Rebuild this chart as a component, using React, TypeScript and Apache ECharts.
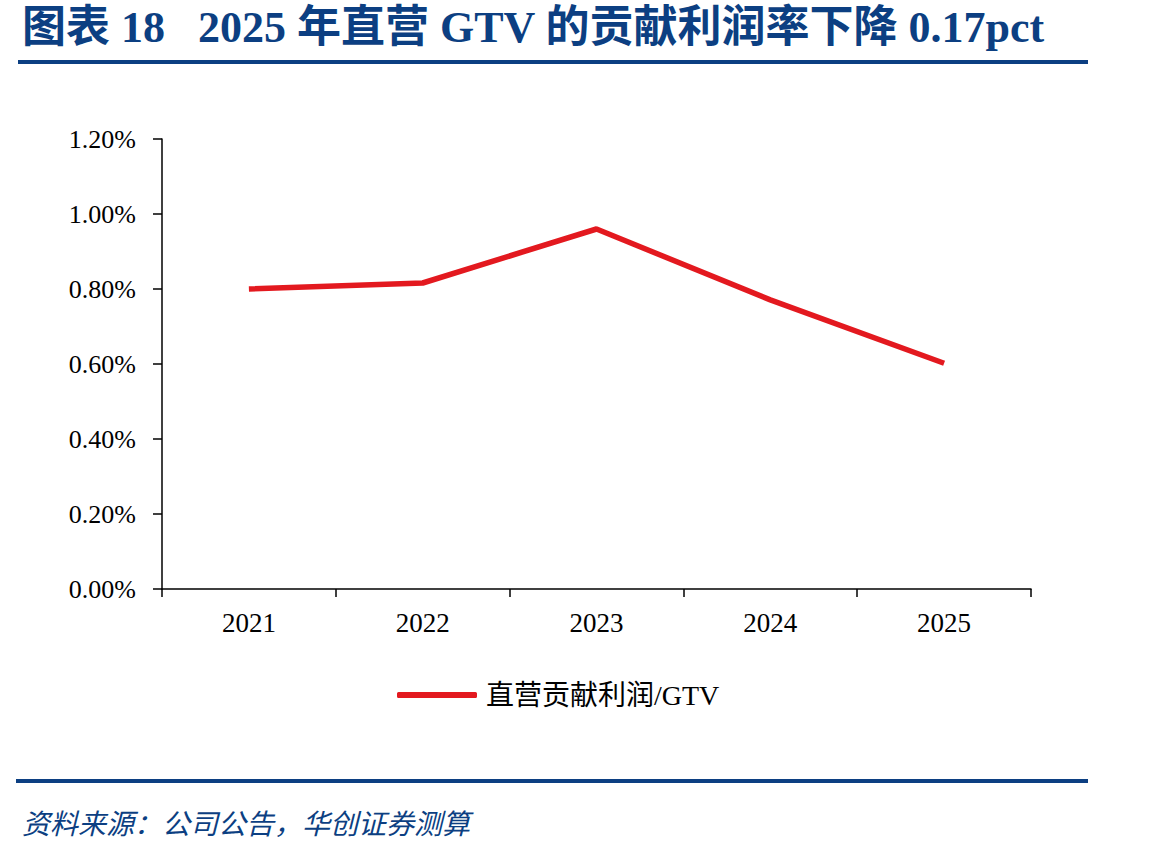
import React, { useEffect, useRef } from "react";
import * as echarts from "echarts";

const categories = ["2021", "2022", "2023", "2024", "2025"];
const seriesName = "直营贡献利润/GTV";
const values = [0.8, 0.816, 0.96, 0.771, 0.602];
const yTicks = { min: 0, max: 1.2, interval: 0.2 };
const titleText = "图表 18   2025 年直营 GTV 的贡献利润率下降 0.17pct";
const sourceText = "资料来源：公司公告，华创证券测算";

const BLUE = "#0c3f82";
const RED = "#e3191f";
const SERIF = "'Liberation Serif', 'Times New Roman', 'Noto Sans CJK SC', serif";

export default function App() {
  const ref = useRef<HTMLDivElement>(null);
  useEffect(() => {
    document.body.style.margin = "0";
    const chart = echarts.init(ref.current!, null, { renderer: "svg" });
    chart.setOption({
      animation: false,
      backgroundColor: "#ffffff",
      grid: { left: 162, right: 118, top: 139, bottom: 268, containLabel: false },
      xAxis: {
        type: "category",
        data: categories,
        boundaryGap: true,
        axisLine: { lineStyle: { color: "#000", width: 1.5 } },
        axisTick: { show: true, alignWithLabel: false, length: 8, lineStyle: { color: "#000", width: 1.5 } },
        axisLabel: { color: "#000", fontFamily: SERIF, fontSize: 27, margin: 20 },
      },
      yAxis: {
        type: "value",
        min: yTicks.min,
        max: yTicks.max,
        interval: yTicks.interval,
        splitLine: { show: false },
        axisLine: { show: true, lineStyle: { color: "#000", width: 1.5 } },
        axisTick: { show: true, length: 9, lineStyle: { color: "#000", width: 1.5 } },
        axisLabel: {
          color: "#000",
          fontFamily: SERIF,
          fontSize: 26,
          margin: 26,
          formatter: (v: number) => v.toFixed(2) + "%",
        },
      },
      legend: {
        data: [seriesName],
        left: 392,
        top: 676,
        icon: "roundRect",
        itemWidth: 80,
        itemHeight: 6,
        textStyle: { color: "#000", fontFamily: SERIF, fontSize: 28, padding: [0, 0, 0, 4] },
      },
      series: [
        {
          name: seriesName,
          type: "line",
          data: values,
          symbol: "none",
          lineStyle: { color: RED, width: 5.5 },
          itemStyle: { color: RED },
        },
      ],
      graphic: [
        {
          type: "text",
          left: 22,
          top: 5,
          style: {
            text: titleText,
            fill: BLUE,
            font: `bold 44px ${SERIF}`,
          },
        },
        {
          type: "rect",
          shape: { x: 18, y: 60, width: 1070, height: 4 },
          style: { fill: BLUE },
        },
        {
          type: "rect",
          shape: { x: 16, y: 779, width: 1072, height: 4 },
          style: { fill: BLUE },
        },
        {
          type: "text",
          left: 22,
          top: 808,
          style: {
            text: sourceText,
            fill: BLUE,
            font: `italic 28px 'Noto Sans CJK SC', ${SERIF}`,
          },
        },
      ],
    });
    return () => chart.dispose();
  }, []);
  return <div ref={ref} style={{ width: 1149, height: 857 }} />;
}
